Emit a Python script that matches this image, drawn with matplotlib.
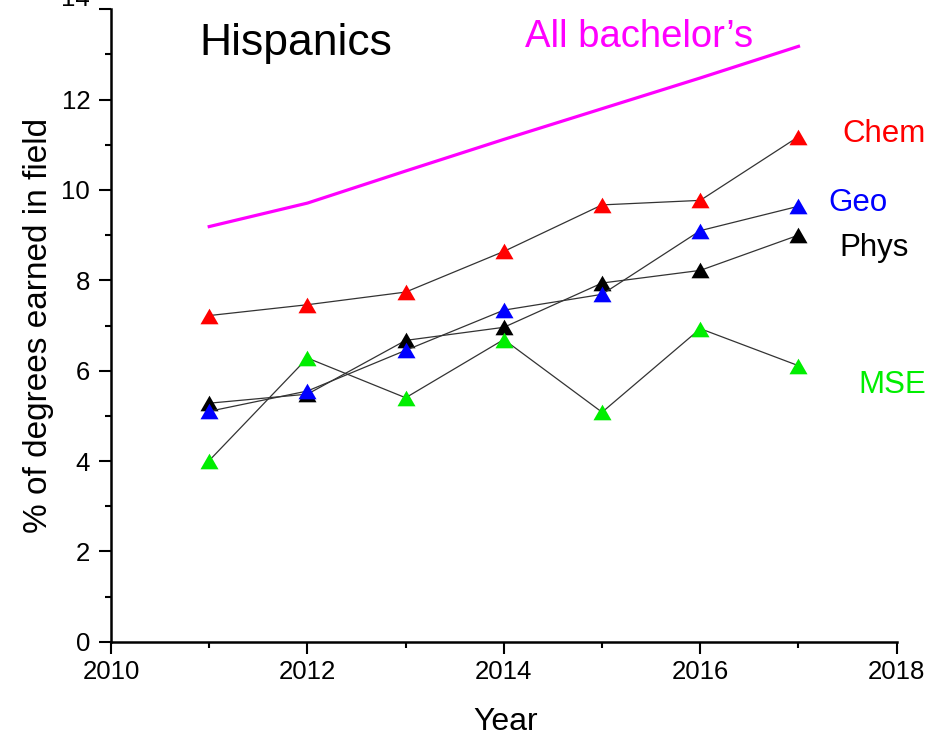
import matplotlib
matplotlib.use("Agg")
import matplotlib.pyplot as plt
import matplotlib.transforms as mtransforms
from matplotlib.ticker import MultipleLocator

plt.rcParams['font.family'] = ['Liberation Sans', 'DejaVu Sans']

years = [2011, 2012, 2013, 2014, 2015, 2016, 2017]
all_bachelors = [9.19, 9.71, 10.42, 11.12, 11.80, 12.48, 13.18]
chem = [7.22, 7.46, 7.74, 8.64, 9.67, 9.77, 11.18]
geo = [5.10, 5.55, 6.45, 7.34, 7.69, 9.10, 9.64]
phys = [5.28, 5.48, 6.67, 6.96, 7.94, 8.22, 9.00]
mse = [4.01, 6.28, 5.40, 6.69, 5.08, 6.93, 6.11]

# equilateral triangle, centred on its bounding box
tri = [(-1, -0.866), (1, -0.866), (0, 0.866), (-1, -0.866)]

W, H = 936, 739
fig = plt.figure(figsize=(W / 100, H / 100), dpi=100)
ax = fig.add_axes([111 / W, 1 - 641.7 / H, (896.7 - 111) / W, (641.7 - 9.3) / H])

ax.plot(years, all_bachelors, color='#ff00ff', lw=2.3, zorder=2)

series = [(phys, 'black'), (geo, '#0000ff'), (mse, '#00ee00'), (chem, '#ff0000')]
for vals, c in series:
    ax.plot(years, vals, color='#333333', lw=0.9, marker=tri, ms=13,
            mfc=c, mec=c, mew=0, zorder=3)

ax.set_xlim(2010, 2018)
ax.set_ylim(0, 14)
ax.xaxis.set_major_locator(MultipleLocator(2))
ax.xaxis.set_minor_locator(MultipleLocator(1))
ax.yaxis.set_major_locator(MultipleLocator(2))
ax.yaxis.set_minor_locator(MultipleLocator(1))

for s in ['top', 'right']:
    ax.spines[s].set_visible(False)
for s in ['left', 'bottom']:
    ax.spines[s].set_linewidth(1.8)

ax.tick_params(which='major', direction='out', length=8.5, width=1.5, labelsize=18.5)
ax.tick_params(which='minor', direction='out', length=4.3, width=1.5)
ax.tick_params(axis='y', pad=6.5)
ax.tick_params(axis='x', pad=5)

# top label sits above the frame edge, mostly cut off
fig.canvas.draw()
for lab in ax.get_yticklabels():
    if lab.get_text() == '14':
        lab.set_transform(lab.get_transform() +
                          mtransforms.ScaledTranslation(0, 13 / 100, fig.dpi_scale_trans))

# annotations
ax.text(2010.90, 12.99, 'Hispanics', fontsize=32, color='black', va='baseline', ha='left')
ax.text(2014.22, 13.17, 'All bachelor\u2019s', fontsize=27.5, color='#ff00ff',
        va='baseline', ha='left')
ax.text(2017.45, 11.07, 'Chem', fontsize=22.5, color='#ff0000', va='baseline', ha='left')
ax.text(2017.30, 9.54, 'Geo', fontsize=22.5, color='#0000ff', va='baseline', ha='left')
ax.text(2017.42, 8.54, 'Phys', fontsize=22.5, color='black', va='baseline', ha='left')
ax.text(2017.61, 5.51, 'MSE', fontsize=22.5, color='#00ee00', va='baseline', ha='left')

fig.text(39 / W, 1 - 325 / H, '% of degrees earned in field', fontsize=24,
         rotation=90, ha='center', va='center')
fig.text(506 / W, 1 - 730 / H, 'Year', fontsize=23, ha='center', va='baseline')

fig.savefig('out.png', dpi=100)
